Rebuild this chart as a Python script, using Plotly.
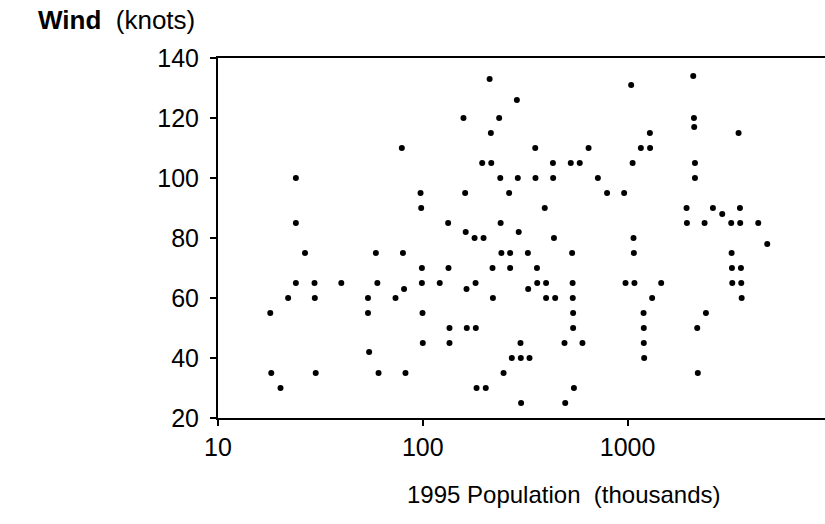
import plotly.graph_objects as go

# 1995 population (thousands) and wind (knots)
population = [
    79, 24, 24, 26.6, 59, 80, 24, 29.6, 40, 60, 81, 22, 29.7, 54, 73.6, 54, 18, 54.7,
    18.2, 30, 60.8, 82.3, 20.2,
    212, 288, 158, 236, 215, 354, 645, 195, 216, 432, 528, 584, 239, 291, 355, 433, 716,
    97.5, 161, 264, 794, 98.2, 394, 133, 240, 162, 294, 179, 198, 437,
    242, 267, 326, 536, 99, 133.5, 219, 267, 361, 99, 121, 181, 362, 400, 539,
    163.5, 327, 220, 400, 443, 540, 99.7, 542, 135, 164, 181.5, 542,
    100, 135, 300, 492, 602, 272, 301, 332, 248, 183, 203, 547, 302, 496,
    2092, 1041, 2109, 2115, 1285, 3483, 1161, 1288, 1058, 2133, 2133, 962,
    1941, 2610, 3537, 2898, 1949, 2377, 3206, 3548, 4345, 1069, 4808,
    1073, 3221, 3233, 3577, 977, 1080, 1459, 3245, 3590, 3606, 1318,
    2413, 1197, 1200, 2188, 1200, 1205, 2203,
]
wind = [
    110, 100, 85, 75, 75, 75, 65, 65, 65, 65, 63, 60, 60, 60, 60, 55, 55, 42,
    35, 35, 35, 35, 30,
    133, 126, 120, 120, 115, 110, 110, 105, 105, 105, 105, 105, 100, 100, 100, 100, 100,
    95, 95, 95, 95, 90, 90, 85, 85, 82, 82, 80, 80, 80,
    75, 75, 75, 75, 70, 70, 70, 70, 70, 65, 65, 65, 65, 65, 65,
    63, 63, 60, 60, 60, 60, 55, 55, 50, 50, 50, 50,
    45, 45, 45, 45, 45, 40, 40, 40, 35, 30, 30, 30, 25, 25,
    134, 131, 120, 117, 115, 115, 110, 110, 105, 105, 100, 95,
    90, 90, 90, 88, 85, 85, 85, 85, 85, 80, 78,
    75, 75, 70, 70, 65, 65, 65, 65, 65, 60, 60,
    55, 55, 50, 50, 45, 40, 35,
]

x_tickvals = [10, 100, 1000]
x_ticktext = ["10", "100", "1000"]
y_tickvals = [20, 40, 60, 80, 100, 120, 140]

x_title = "1995 Population  (thousands)"
y_title = "<b>Wind</b>  (knots)"

FONT = "Liberation Sans, Arial, sans-serif"

fig = go.Figure(
    go.Scatter(
        x=population,
        y=wind,
        mode="markers",
        marker=dict(color="black", size=6),
        hoverinfo="x+y",
    )
)

L, R, T, B = 218, 0, 58, 106
W, H = 825, 524
pw, ph = W - L - R, H - T - B

fig.update_layout(
    width=W,
    height=H,
    margin=dict(l=L, r=R, t=T, b=B, pad=0),
    paper_bgcolor="white",
    plot_bgcolor="white",
    showlegend=False,
    font=dict(family=FONT, color="black"),
    xaxis=dict(
        type="log",
        range=[1, 3.964],
        tickvals=x_tickvals,
        ticktext=x_ticktext,
        ticks="outside",
        ticklen=6,
        tickwidth=1.5,
        tickcolor="black",
        showline=True,
        linewidth=2,
        linecolor="black",
        mirror=True,
        showgrid=False,
        zeroline=False,
        tickfont=dict(size=25, family=FONT),
        ticklabelstandoff=0,
    ),
    yaxis=dict(
        range=[20, 140],
        tickvals=y_tickvals,
        ticks="outside",
        ticklen=6,
        tickwidth=1.5,
        tickcolor="black",
        showline=True,
        linewidth=2,
        linecolor="black",
        showgrid=False,
        zeroline=False,
        tickfont=dict(size=25, family=FONT),
        ticklabelstandoff=6,
    ),
    annotations=[
        dict(
            text=y_title,
            xref="paper", yref="paper",
            x=(197 - L) / pw, y=(H - B - 20) / ph,
            xanchor="right", yanchor="middle",
            showarrow=False,
            font=dict(size=26, family=FONT, color="black"),
        ),
        dict(
            text=x_title,
            xref="paper", yref="paper",
            x=(564 - L) / pw, y=(H - B - 495) / ph,
            xanchor="center", yanchor="middle",
            showarrow=False,
            font=dict(size=24, family=FONT, color="black"),
        ),
    ],
)

fig.write_html(
    "out.html",
    config={"displayModeBar": False},
    post_script="document.body.style.margin='0';document.body.style.overflow='hidden';",
)
